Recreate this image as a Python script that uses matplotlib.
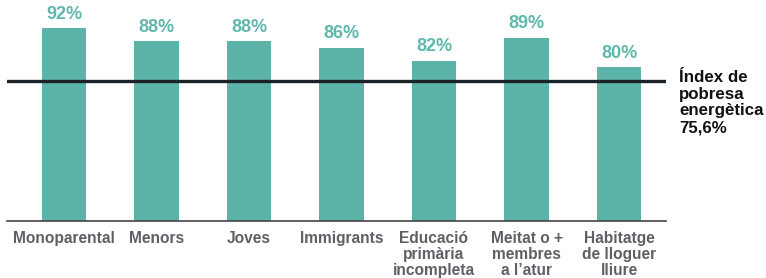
import matplotlib
matplotlib.use("Agg")
import matplotlib.pyplot as plt

# Data
CATEGORIES = [
    "Monoparental",
    "Menors",
    "Joves",
    "Immigrants",
    "Educació\nprimària\nincompleta",
    "Meitat o +\nmembres\na l’atur",
    "Habitatge\nde lloguer\nlliure",
]
VALUES = [92, 88, 88, 86, 82, 89, 80]
INDEX_VALUE = 75.6
INDEX_LABEL = "Índex de\npobresa\nenergètica\n75,6%"

BAR_COLOUR = "#5cb3a8"
VALUE_COLOUR = "#5fb8ab"
LABEL_COLOUR = "#5f6066"
LINE_COLOUR = "#1b2329"

plt.rcParams["font.family"] = ["Liberation Sans", "DejaVu Sans"]
plt.rcParams["font.weight"] = "bold"

W, H = 766, 278
fig = plt.figure(figsize=(W / 100, H / 100), dpi=100)

# axes placed in pixel terms
left_px, right_px, bottom_px, top_px = 7, 666, 221, 0
ax = fig.add_axes([
    left_px / W,
    1 - bottom_px / H,
    (right_px - left_px) / W,
    (bottom_px - top_px) / H,
])

x = list(range(len(CATEGORIES)))
ax.bar(x, VALUES, width=0.476, color=BAR_COLOUR, zorder=2)
ax.set_xlim(-0.616, 6.508)
ax.set_ylim(32.5, 100.7)

for xi, v in zip(x, VALUES):
    ax.annotate(
        f"{v}%",
        (xi, v),
        xytext=(0, 4),
        textcoords="offset points",
        ha="center",
        va="bottom",
        color=VALUE_COLOUR,
        fontsize=13,
        fontweight="bold",
    )

ax.axhline(INDEX_VALUE, color=LINE_COLOUR, linewidth=2.4, zorder=3)

for side in ["top", "right", "left"]:
    ax.spines[side].set_visible(False)
ax.spines["bottom"].set_color("#444444")
ax.spines["bottom"].set_linewidth(1.2)
ax.spines["bottom"].set_zorder(4)

ax.set_yticks([])
ax.set_xticks(x)
ax.set_xticklabels(CATEGORIES, fontsize=11.2, fontweight="bold", color=LABEL_COLOUR)
ax.tick_params(axis="x", length=0, pad=7)
for lab in ax.get_xticklabels():
    lab.set_linespacing(1.1)

fig.text(
    679 / W,
    1 - 70 / H,
    INDEX_LABEL,
    ha="left",
    va="top",
    fontsize=12.2,
    fontweight="bold",
    color="#111111",
    linespacing=1.14,
)

fig.savefig("out.png", dpi=100)
